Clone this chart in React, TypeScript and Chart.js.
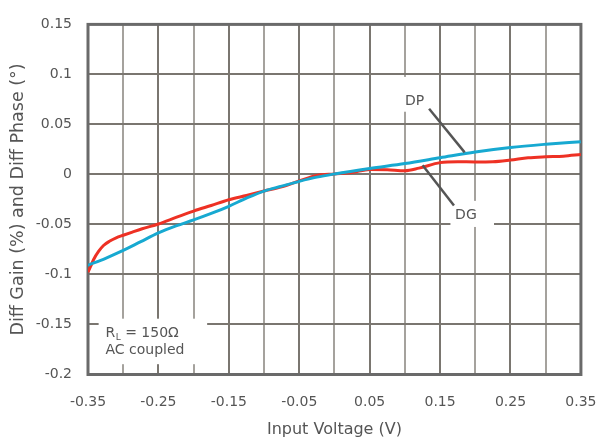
import React, { useEffect, useRef } from "react";
import { Chart, registerables } from "chart.js";

Chart.register(...registerables);

// ---- data ----
const dpX = [-0.35, -0.325, -0.3, -0.275, -0.25, -0.225, -0.2, -0.175, -0.15, -0.125, -0.1, -0.075, -0.05, -0.025, 0, 0.05, 0.1, 0.15, 0.2, 0.25, 0.3, 0.35];
const dpY = [-0.0908, -0.0838, -0.076, -0.0672, -0.0585, -0.0515, -0.0455, -0.039, -0.0318, -0.0237, -0.0166, -0.0117, -0.0069, -0.0027, 0.0005, 0.006, 0.0109, 0.0167, 0.0225, 0.027, 0.0302, 0.0328];

const dgX = [-0.35, -0.346, -0.342, -0.335, -0.328, -0.319, -0.31, -0.3, -0.287, -0.273, -0.25, -0.225, -0.2, -0.175, -0.15, -0.125, -0.1, -0.075, -0.05, -0.025, 0, 0.025, 0.05, 0.075, 0.1, 0.12, 0.15, 0.175, 0.2, 0.225, 0.25, 0.275, 0.3, 0.325, 0.35];
const dgY = [-0.0977, -0.0914, -0.085, -0.077, -0.071, -0.0666, -0.0634, -0.0608, -0.0576, -0.0543, -0.0495, -0.043, -0.0366, -0.031, -0.0253, -0.021, -0.0166, -0.0124, -0.0065, -0.001, 0.0005, 0.002, 0.005, 0.0047, 0.0037, 0.0063, 0.0118, 0.0127, 0.0125, 0.0127, 0.0144, 0.0167, 0.0177, 0.0183, 0.0199];

const xMin = -0.35;
const xMax = 0.35;
const xStep = 0.05;
const yMin = -0.2;
const yMax = 0.15;
const yStep = 0.05;

const xTitle = "Input Voltage (V)";
const yTitle = "Diff Gain (%) and Diff Phase (°)";
const dpLabel = "DP";
const dgLabel = "DG";
const noteLine2 = "AC coupled";

// ---- styles ----
const FONT = "'DejaVu Sans', Verdana, sans-serif";
const TEXT = "#555555";
const GRID_DARK = "#7a7670";
const GRID_LIGHT = "#a5a29d";
const FRAME = "#6a6a6a";
const RED = "#ee3124";
const BLUE = "#17a9d1";

const fmt = (v: number) => String(Number(v.toFixed(2)));

// annotation anchors, in data units
const ann = {
  dpBox: [0.0862, 0.0975, 0.1413, 0.0627],
  dpText: [0.1137, 0.0733],
  dpLine: [0.1344, 0.0656, 0.1849, 0.0221],
  dgBox: [0.1647, -0.0264, 0.2266, -0.0525],
  dgText: [0.1867, -0.0408],
  dgLine: [0.1252, 0.0092, 0.1697, -0.0311],
  noteBox: [-0.3349, -0.1442, -0.1808, -0.1897],
  note1: [-0.3252, -0.1589],
  note2: [-0.3252, -0.1763],
};

const annotPlugin = {
  id: "annot",
  beforeDatasetsDraw(chart: any) {
    const { ctx, chartArea, scales } = chart;
    const X = (v: number) => scales.x.getPixelForValue(v);
    const Y = (v: number) => scales.y.getPixelForValue(v);
    ctx.save();
    ctx.fillStyle = "#ffffff";
    for (const b of [ann.dpBox, ann.dgBox, ann.noteBox]) {
      const x1 = X(b[0]), y1 = Y(b[1]), x2 = X(b[2]), y2 = Y(b[3]);
      ctx.fillRect(x1, y1, x2 - x1, y2 - y1);
    }
    ctx.strokeStyle = FRAME;
    ctx.lineWidth = 3;
    ctx.strokeRect(chartArea.left, chartArea.top, chartArea.right - chartArea.left, chartArea.bottom - chartArea.top);
    ctx.restore();
  },
  afterDatasetsDraw(chart: any) {
    const { ctx, scales } = chart;
    const X = (v: number) => scales.x.getPixelForValue(v);
    const Y = (v: number) => scales.y.getPixelForValue(v);
    ctx.save();
    ctx.strokeStyle = "#555555";
    ctx.lineWidth = 2.5;
    for (const l of [ann.dpLine, ann.dgLine]) {
      ctx.beginPath();
      ctx.moveTo(X(l[0]), Y(l[1]));
      ctx.lineTo(X(l[2]), Y(l[3]));
      ctx.stroke();
    }
    ctx.fillStyle = TEXT;
    ctx.font = `14px ${FONT}`;
    ctx.textBaseline = "middle";
    ctx.textAlign = "center";
    ctx.fillText(dpLabel, X(ann.dpText[0]), Y(ann.dpText[1]));
    ctx.fillText(dgLabel, X(ann.dgText[0]), Y(ann.dgText[1]));
    ctx.textAlign = "left";
    let x = X(ann.note1[0]);
    const y = Y(ann.note1[1]);
    ctx.fillText("R", x, y);
    x += ctx.measureText("R").width + 0.5;
    ctx.font = `9px ${FONT}`;
    ctx.fillText("L", x, y + 4);
    x += ctx.measureText("L").width;
    ctx.font = `14px ${FONT}`;
    ctx.fillText(" = 150Ω", x, y);
    ctx.fillText(noteLine2, X(ann.note2[0]), Y(ann.note2[1]));
    ctx.restore();
  },
};

export default function App() {
  const ref = useRef<HTMLCanvasElement | null>(null);
  useEffect(() => {
    if (!ref.current) return;
    const chart = new Chart(ref.current, {
      type: "line",
      data: {
        datasets: [
          {
            label: "DP",
            data: dpX.map((x, i) => ({ x, y: dpY[i] })),
            borderColor: BLUE,
            borderWidth: 3,
            pointRadius: 0,
            cubicInterpolationMode: "monotone",
          },
          {
            label: "DG",
            data: dgX.map((x, i) => ({ x, y: dgY[i] })),
            borderColor: RED,
            borderWidth: 3,
            pointRadius: 0,
            cubicInterpolationMode: "monotone",
          },
        ],
      },
      options: {
        responsive: false,
        animation: false,
        layout: { padding: { top: 12.8, right: 19.3, left: 0, bottom: 0 } },
        plugins: { legend: { display: false }, tooltip: { enabled: false } },
        scales: {
          x: {
            type: "linear",
            min: xMin,
            max: xMax,
            afterFit: (s: any) => { s.height = 72.5; },
            border: { display: false },
            grid: {
              color: (c: any) => (c.index % 2 === 0 ? GRID_DARK : GRID_LIGHT),
              lineWidth: 2,
              drawTicks: false,
            },
            ticks: {
              stepSize: xStep,
              autoSkip: false,
              maxRotation: 0,
              padding: 19.5,
              color: TEXT,
              font: { family: FONT, size: 14 },
              callback: (v: any, i: number) => (i % 2 === 0 ? fmt(Number(v)) : ""),
            },
            title: {
              display: true,
              text: xTitle,
              color: TEXT,
              font: { family: FONT, size: 16 },
              padding: { top: 0, bottom: 8 },
            },
          },
          y: {
            type: "linear",
            min: yMin,
            max: yMax,
            afterFit: (s: any) => { s.width = 88; },
            border: { display: false },
            grid: { color: GRID_DARK, lineWidth: 2, drawTicks: false },
            ticks: {
              stepSize: yStep,
              padding: 16,
              color: TEXT,
              font: { family: FONT, size: 14 },
              callback: (v: any) => fmt(Number(v)),
            },
            title: {
              display: true,
              text: yTitle,
              color: TEXT,
              font: { family: FONT, size: 17.5 },
              padding: { top: 7.5, bottom: 0 },
            },
          },
        },
      },
      plugins: [annotPlugin],
    } as any);
    return () => chart.destroy();
  }, []);
  return (
    <div style={{ position: "absolute", left: 0, top: 0, width: 616, height: 447, background: "#fff" }}>
      <canvas ref={ref} width={616} height={447} style={{ display: "block" }} />
    </div>
  );
}
